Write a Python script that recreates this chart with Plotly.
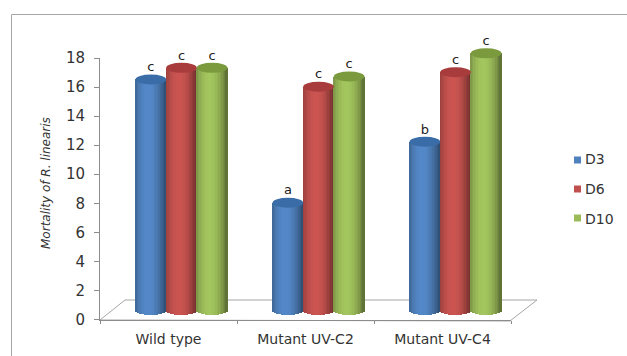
import math
import plotly.graph_objects as go

categories = ["Wild type", "Mutant UV-C2", "Mutant UV-C4"]
series_names = ["D3", "D6", "D10"]
d3_values = [15.9, 7.4, 11.6]
d6_values = [16.7, 15.4, 16.4]
d10_values = [16.7, 16.1, 17.7]
d3_letters = ["c", "a", "b"]
d6_letters = ["c", "c", "c"]
d10_letters = ["c", "c", "c"]
y_title = "<i>Mortality of R. linearis</i>"

W, H = 627, 356
FONT = "DejaVu Sans"
TEXT = "#333333"
AXIS = "#8c8c8c"

series = [
    (series_names[0], d3_values, d3_letters, (79, 129, 189), "#3a6ca8"),
    (series_names[1], d6_values, d6_letters, (192, 80, 77), "#a83c3c"),
    (series_names[2], d10_values, d10_letters, (155, 187, 89), "#7b9a3e"),
]
swatch_y = [160, 189, 218]

BAR_W = 0.2235          # width of one cylinder, in category units
CAP_PX = 5.0            # half height of the ellipse, in pixels
PX_PER_UNIT = 14.5
CAP = CAP_PX / PX_PER_UNIT
STRIPS = 21


def shade(rgb, t):
    """t in [-1, 1] across the cylinder: dark edges, light left of the centre."""
    k = 1.06 - 0.36 * abs(t + 0.15) ** 2
    return "rgb(%d,%d,%d)" % tuple(min(255, int(c * k)) for c in rgb)


def px_x(p):
    return p / W


def px_y(p):
    return 1 - p / H


fig = go.Figure()

fig.add_trace(go.Scatter(x=categories, y=[0, 0, 0], mode="markers", marker=dict(opacity=0),
                         showlegend=False, hoverinfo="skip", xaxis="x", yaxis="y"))

shapes = []
for s, (name, vals, letters, rgb, cap) in enumerate(series):
    left = (s - 1.5) * BAR_W
    pos = list(range(len(categories)))
    for k in range(STRIPS):
        t = (k + 0.5) / STRIPS * 2 - 1
        edge = math.sqrt(max(0.0, 1 - t * t))
        bases = [-CAP * edge] * len(vals)
        tops = [v - b for v, b in zip(vals, bases)]
        fig.add_trace(go.Bar(
            x=pos, y=tops, base=bases,
            width=BAR_W / STRIPS * 1.25,
            offset=left + BAR_W * k / STRIPS,
            marker=dict(color=shade(rgb, t), line_width=0),
            showlegend=False, hoverinfo="skip", xaxis="x2", yaxis="y2",
        ))
    for i, v in enumerate(vals):
        shapes.append(dict(type="circle", xref="x2", yref="y2",
                           x0=i + left, x1=i + left + BAR_W, y0=v - CAP, y1=v + CAP,
                           fillcolor=cap, line_width=0, layer="above"))
    fig.add_trace(go.Scatter(
        x=[i + left + BAR_W / 2 for i in pos], y=[v + CAP for v in vals], mode="text", text=letters,
        textposition="top center", textfont=dict(family=FONT, size=13, color="#222222"),
        showlegend=False, hoverinfo="skip", cliponaxis=False, xaxis="x2", yaxis="y2",
    ))
    # legend entry: text comes from the real legend, swatch is placed beside it
    fig.add_trace(go.Scatter(
        x=[None], y=[None], mode="markers", name=name, legendgroup=name,
        marker=dict(symbol="square", size=7, color="rgba(0,0,0,0)"),
        xaxis="x2", yaxis="y2",
    ))
    shapes.append(dict(type="rect", xref="paper", yref="paper", layer="above",
                       x0=px_x(574), x1=px_x(581), y0=px_y(swatch_y[s] + 3.5), y1=px_y(swatch_y[s] - 3.5),
                       fillcolor="rgb(%d,%d,%d)" % rgb, line_width=0))

shapes.append(dict(type="path", xref="paper", yref="paper", layer="below",
                   path="M %f %f L %f %f L %f %f" % (px_x(11.5), 0, px_x(11.5), px_y(14.5), 1, px_y(14.5)),
                   line=dict(color="#a6a6a6", width=1)))
shapes.append(dict(type="path", xref="paper", yref="paper", layer="below",
                   path="M %f %f L %f %f L %f %f L %f %f Z" % (
                       px_x(100), px_y(320), px_x(125), px_y(300),
                       px_x(537), px_y(300), px_x(510), px_y(321)),
                   line=dict(color="#a6a6a6", width=1)))

fig.update_layout(
    width=W, height=H, margin=dict(l=0, r=0, t=0, b=0, pad=0, autoexpand=False), autosize=False,
    paper_bgcolor="white", plot_bgcolor="rgba(0,0,0,0)",
    barmode="overlay", bargap=0, shapes=shapes,
    font=dict(family=FONT, color=TEXT),
    xaxis=dict(domain=[px_x(100), px_x(511)], type="category", categoryarray=categories,
               range=[-0.5, 2.5], tickson="boundaries", ticks="outside", ticklen=3,
               tickcolor=AXIS, showline=True, linecolor=AXIS, showgrid=False, zeroline=False,
               tickfont=dict(family=FONT, size=14, color=TEXT), anchor="y", fixedrange=True,
               automargin=False, ticklabelstandoff=7),
    yaxis=dict(domain=[px_y(319.5), px_y(58)], range=[0, 18], dtick=2, ticks="outside", ticklen=5,
               tickcolor=AXIS, showline=True, linecolor=AXIS, showgrid=False, zeroline=False,
               tickfont=dict(family=FONT, size=15, color=TEXT), anchor="x", fixedrange=True,
               automargin=False, ticklabelstandoff=6),
    xaxis2=dict(domain=[px_x(113), px_x(524)], range=[-0.5, 2.5], visible=False, anchor="y2", fixedrange=True),
    yaxis2=dict(domain=[px_y(310 + PX_PER_UNIT), px_y(310 - 20 * PX_PER_UNIT)], range=[-1, 20],
                visible=False, anchor="x2", fixedrange=True),
    legend=dict(x=px_x(545), xanchor="left", y=px_y(143), yanchor="top", tracegroupgap=9,
                font=dict(family=FONT, size=14, color=TEXT), bgcolor="rgba(0,0,0,0)", itemclick=False),
    annotations=[dict(text=y_title, textangle=-90, xref="paper", yref="paper", showarrow=False,
                      x=px_x(46), y=px_y(183), xanchor="center", yanchor="middle",
                      font=dict(family=FONT, size=12, color=TEXT))],
)

fig.write_html("out.html", config={"displayModeBar": False},
               post_script="document.body.style.margin='0';document.documentElement.style.overflow='hidden';")
